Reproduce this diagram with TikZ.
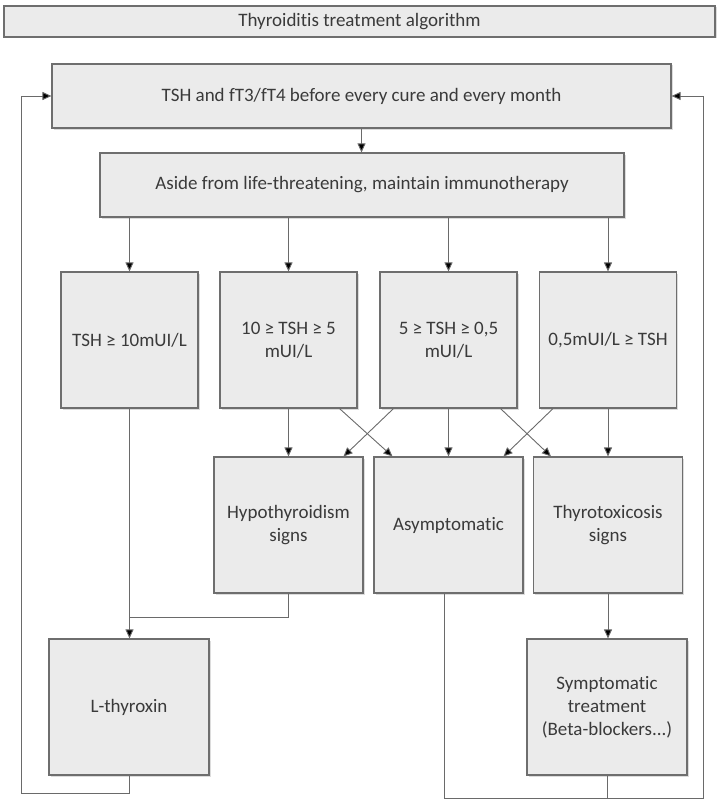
\documentclass[tikz,border=0pt]{standalone}
\usepackage{fontspec}
\setmainfont{Carlito}[Ligatures={NoCommon}]
\usetikzlibrary{arrows.meta,shadows}
\definecolor{boxfill}{HTML}{EBEBEB}
\definecolor{boxline}{HTML}{6E6E6E}
\definecolor{conn}{HTML}{6A6A6A}
\definecolor{txt}{HTML}{3A3A3A}
\begin{document}
\begin{tikzpicture}[x=1pt,y=-1pt,
  box/.style={draw=boxline, fill=boxfill, line width=1.1pt, inner sep=3pt, align=center,
    text=txt, font=\fontsize{19}{23}\selectfont,
    drop shadow={shadow xshift=1.5pt, shadow yshift=-1.5pt, fill=black!30, opacity=0.45}},
  conn/.style={draw=conn, line width=0.9pt},
  arr/.style={conn, -{Triangle[length=9pt,width=8pt,fill=black]}}]
\useasboundingbox (0,0) rectangle (717,800);
\node[box, minimum width=711, minimum height=31] (title) at (359.5,21.5) {Thyroiditis treatment algorithm};
\node[box, minimum width=619, minimum height=64] (top) at (361.5,96) {TSH and fT3/fT4 before every cure and every month};
\node[box, minimum width=524, minimum height=64] (aside) at (362,185) {Aside from life-threatening, maintain immunotherapy};
\node[box, minimum width=137, minimum height=136] (A) at (129.5,340) {TSH ≥ 10mUI/L};
\node[box, minimum width=137, minimum height=136] (B) at (288.5,340) {10 ≥ TSH ≥ 5\\mUI/L};
\node[box, minimum width=137, minimum height=136] (C) at (448.5,340) {5 ≥ TSH ≥ 0,5\\mUI/L};
\node[box, minimum width=137, minimum height=136] (D) at (608,340) {0,5mUI/L ≥ TSH};
\node[box, minimum width=149, minimum height=136] (hypo) at (288.5,525) {Hypothyroidism\\signs};
\node[box, minimum width=149, minimum height=136] (asym) at (448.5,525) {Asymptomatic};
\node[box, minimum width=149, minimum height=136] (thyro) at (608,525) {Thyrotoxicosis\\signs};
\node[box, minimum width=160, minimum height=136] (lthy) at (129,707) {L-thyroxin};
\node[box, minimum width=160, minimum height=136] (symp) at (607,707) {Symptomatic\\treatment\\(Beta-blockers...)};
\coordinate (lloop) at (21,793);
\coordinate (rloop) at (703,798);
\coordinate (hj) at (288.5,617);
% connectors
\draw[arr] (top.south) -- (top.south |- aside.north);
\foreach \n in {A,B,C,D} \draw[arr] (aside.south -| \n.north) -- (\n.north);
\draw[arr] (B.south) -- (hypo.north);
\draw[arr] (C.south) -- (asym.north);
\draw[arr] (D.south) -- (thyro.north);
\draw[arr] ([xshift=51pt]B.south) -- ([xshift=-56pt]asym.north);
\draw[arr] ([xshift=-55pt]C.south) -- ([xshift=55pt]hypo.north);
\draw[arr] ([xshift=52pt]C.south) -- ([xshift=-57pt]thyro.north);
\draw[arr] ([xshift=-55pt]D.south) -- ([xshift=55pt]asym.north);
\draw[arr] (A.south) -- (A.south |- lthy.north);
\draw[conn] (hypo.south) -- (hj) -- (hj -| lthy.north);
\draw[arr] (thyro.south) -- (thyro.south |- symp.north);
\draw[arr] (lthy.south) |- (lloop) |- (top.west);
\draw[arr] ([xshift=-4pt]asym.south) |- (rloop) |- (top.east);
\draw[conn] (symp.south) -- (symp.south |- rloop);
\end{tikzpicture}
\end{document}
